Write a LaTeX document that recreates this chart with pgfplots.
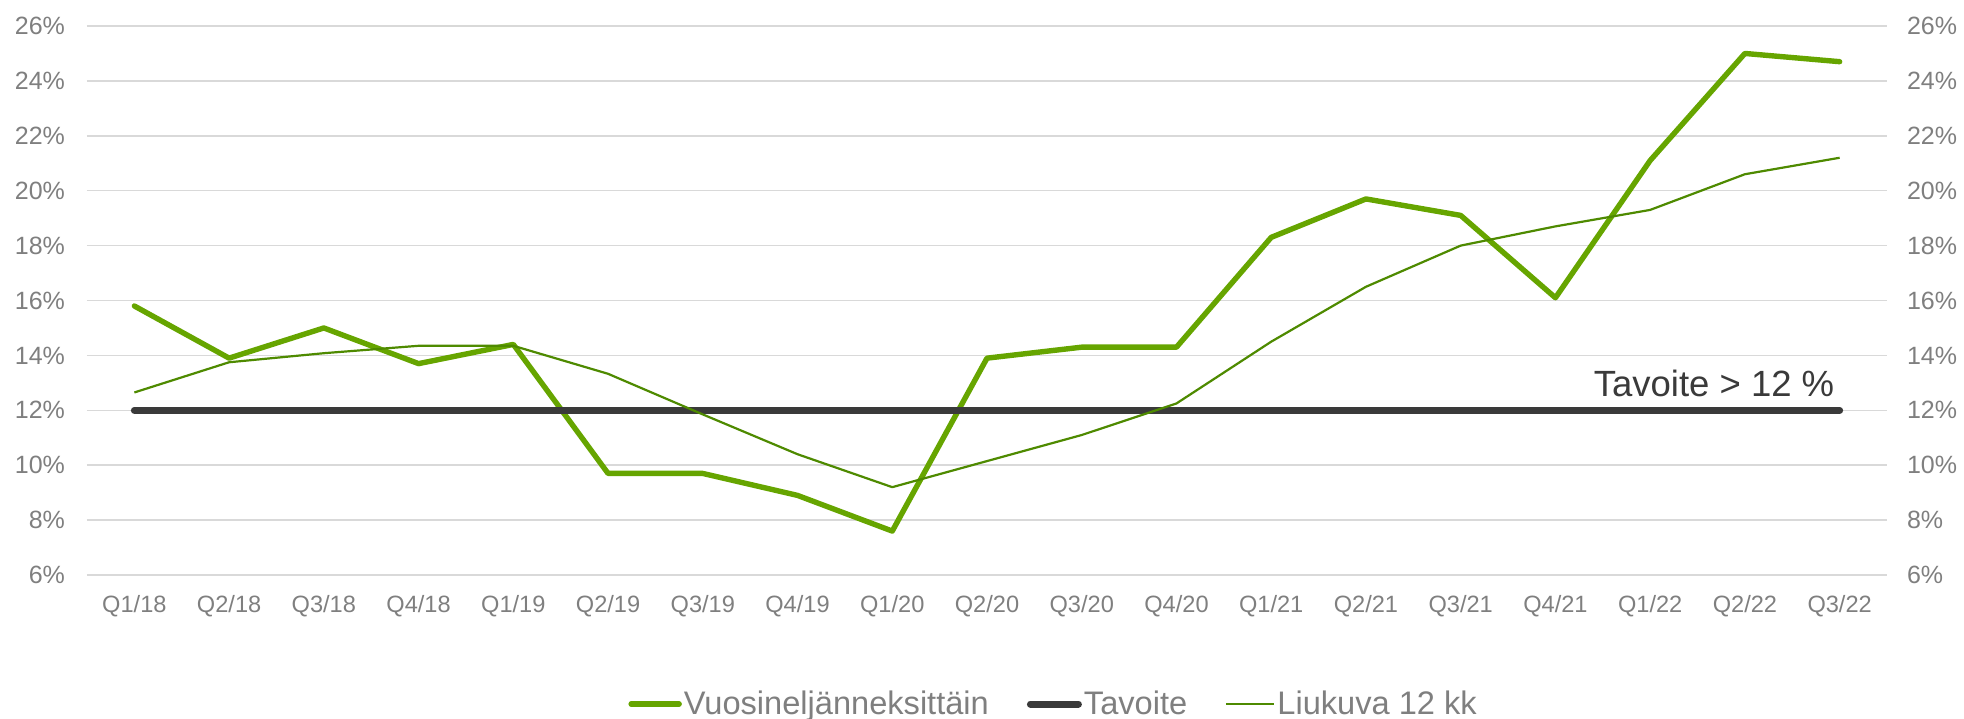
\documentclass[border=0pt]{standalone}
\usepackage{fontspec}
\setmainfont{Liberation Sans}
\usepackage{pgfplots}
\pgfplotsset{compat=1.18}
\definecolor{vgreen}{HTML}{66A500}
\definecolor{lgreen}{HTML}{4E8A00}
\definecolor{tgray}{HTML}{3A3A3A}
\definecolor{tickgray}{HTML}{7F7F7F}
\definecolor{gridgray}{HTML}{D9D9D9}
\begin{document}
\begin{tikzpicture}
\useasboundingbox (-43.5pt,-71.5pt) rectangle (938.5pt,287.5pt);
\begin{axis}[
  at={(0,0)}, anchor=south west,
  scale only axis, width=900pt, height=274.5pt,
  xmin=-0.5, xmax=18.5, ymin=6, ymax=26,
  xtick={0,...,18},
  xticklabels={Q1/18,Q2/18,Q3/18,Q4/18,Q1/19,Q2/19,Q3/19,Q4/19,Q1/20,Q2/20,Q3/20,Q4/20,Q1/21,Q2/21,Q3/21,Q4/21,Q1/22,Q2/22,Q3/22},
  ytick={6,8,...,26},
  yticklabel={\pgfmathprintnumber{\tick}\%},
  /pgf/number format/assume math mode=true,
  ymajorgrids, grid style={gridgray, line width=0.8pt},
  axis line style={draw=none},
  major tick length=0pt,
  tick style={draw=none},
  yticklabel style={font=\fontsize{12.5}{14}\selectfont, text=tickgray, xshift=-7.5pt},
  xticklabel style={font=\fontsize{11.8}{14}\selectfont, text=tickgray, yshift=-6.5pt},
  legend style={at={(0.537,-0.235)}, anchor=center, draw=none, fill=none,
    inner sep=0pt, font=\fontsize{16.3}{18}\selectfont, text=tickgray,
    /tikz/every even column/.append style={column sep=18pt},
    nodes={inner sep=1pt}},
  legend columns=-1,
  legend image code/.code={\draw[#1] (0pt,0pt) -- (24pt,0pt);},
  clip=false,
]
\addplot[vgreen, line width=2.7pt, line join=round, line cap=round] coordinates {
(0,15.8) (1,13.9) (2,15.0) (3,13.7) (4,14.4) (5,9.7) (6,9.7) (7,8.9) (8,7.6) (9,13.9)
(10,14.3) (11,14.3) (12,18.3) (13,19.7) (14,19.1) (15,16.1) (16,21.1) (17,25.0) (18,24.7)};
\addlegendentry{Vuosineljänneksittäin}
\addplot[tgray, line width=3.5pt, line cap=round] coordinates {(0,12) (18,12)};
\addlegendentry{Tavoite}
\addplot[lgreen, line width=1.1pt, line join=round] coordinates {
(0,12.65) (1,13.75) (2,14.08) (3,14.35) (4,14.35) (5,13.33) (6,11.85) (7,10.4) (8,9.2) (9,10.15)
(10,11.1) (11,12.25) (12,14.5) (13,16.5) (14,18.0) (15,18.7) (16,19.3) (17,20.6) (18,21.2)};
\addlegendentry{Liukuva 12 kk}
\node[anchor=base east, font=\fontsize{18.25}{20}\selectfont, text=tgray, inner sep=0pt, xshift=-2.5pt, yshift=7pt] at (axis cs:18,12) {Tavoite > 12 \%};
\end{axis}
\begin{axis}[
  at={(0,0)}, anchor=south west,
  scale only axis, width=900pt, height=274.5pt,
  xmin=-0.5, xmax=18.5, ymin=6, ymax=26,
  xtick=\empty,
  ytick={6,8,...,26},
  yticklabel pos=right,
  yticklabel={\pgfmathprintnumber{\tick}\%},
  /pgf/number format/assume math mode=true,
  axis line style={draw=none},
  major tick length=0pt,
  tick style={draw=none},
  yticklabel style={font=\fontsize{12.5}{14}\selectfont, text=tickgray, xshift=6.5pt},
]
\addplot[draw=none, forget plot] coordinates {(0,6)};
\end{axis}
\end{tikzpicture}
\end{document}
